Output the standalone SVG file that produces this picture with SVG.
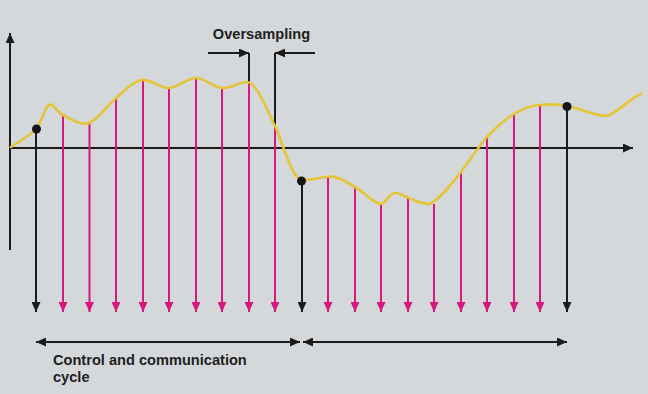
<svg xmlns="http://www.w3.org/2000/svg" width="648" height="394" viewBox="0 0 648 394">
<style>
.ax{stroke:#1b1b1b;stroke-width:2;fill:none}
.blk{stroke:#1b1b1b;stroke-width:2;fill:none}
.mag{stroke:#d6177f;stroke-width:2;fill:none}
.curve{stroke:#e5c437;stroke-width:2.6;fill:none;stroke-linecap:round}
.lbl{font-family:"Liberation Sans",Arial,sans-serif;font-weight:bold;font-size:14.6px;fill:#1e1e1e}
</style>
<defs>
<marker id="ak" markerUnits="userSpaceOnUse" markerWidth="10" markerHeight="9" refX="10" refY="4.5" orient="auto" viewBox="0 0 10 9"><path d="M0,0 L10,4.5 L0,9 Z" fill="#1b1b1b"/></marker>
<marker id="ak2" markerUnits="userSpaceOnUse" markerWidth="10" markerHeight="9" refX="10" refY="4.5" orient="auto-start-reverse" viewBox="0 0 10 9"><path d="M0,0 L10,4.5 L0,9 Z" fill="#1b1b1b"/></marker>
<marker id="am" markerUnits="userSpaceOnUse" markerWidth="10" markerHeight="9" refX="10" refY="4.5" orient="auto" viewBox="0 0 10 9"><path d="M0,0 L10,4.5 L0,9 Z" fill="#d6177f"/></marker>
</defs>
<rect width="648" height="394" fill="#d4d8db"/>
<g id="axes">
<line class="ax" x1="10" y1="250" x2="10" y2="33" marker-end="url(#ak)"/>
<line class="ax" x1="10" y1="148" x2="633" y2="148" marker-end="url(#ak)"/>
</g>
<g id="connectors">
<g id="samples-magenta">
<line class="mag" x1="63" y1="116" x2="63" y2="312" marker-end="url(#am)"/>
<line class="mag" x1="89.5" y1="123" x2="89.5" y2="312" marker-end="url(#am)"/>
<line class="mag" x1="116" y1="98" x2="116" y2="312" marker-end="url(#am)"/>
<line class="mag" x1="143" y1="80" x2="143" y2="312" marker-end="url(#am)"/>
<line class="mag" x1="169" y1="88" x2="169" y2="312" marker-end="url(#am)"/>
<line class="mag" x1="196" y1="78" x2="196" y2="312" marker-end="url(#am)"/>
<line class="mag" x1="222" y1="88" x2="222" y2="312" marker-end="url(#am)"/>
<line class="mag" x1="249" y1="83" x2="249" y2="312" marker-end="url(#am)"/>
<line class="mag" x1="275" y1="126" x2="275" y2="312" marker-end="url(#am)"/>
<line class="mag" x1="328" y1="177" x2="328" y2="312" marker-end="url(#am)"/>
<line class="mag" x1="355" y1="187" x2="355" y2="312" marker-end="url(#am)"/>
<line class="mag" x1="381" y1="204" x2="381" y2="312" marker-end="url(#am)"/>
<line class="mag" x1="408" y1="197" x2="408" y2="312" marker-end="url(#am)"/>
<line class="mag" x1="434" y1="204" x2="434" y2="312" marker-end="url(#am)"/>
<line class="mag" x1="461" y1="172" x2="461" y2="312" marker-end="url(#am)"/>
<line class="mag" x1="487" y1="137" x2="487" y2="312" marker-end="url(#am)"/>
<line class="mag" x1="514" y1="114" x2="514" y2="312" marker-end="url(#am)"/>
<line class="mag" x1="540" y1="105" x2="540" y2="312" marker-end="url(#am)"/>
</g>
<g id="samples-black">
<line class="blk" x1="36" y1="129" x2="36" y2="312" marker-end="url(#ak)"/>
<line class="blk" x1="302" y1="181" x2="302" y2="312" marker-end="url(#ak)"/>
<line class="blk" x1="567" y1="106" x2="567" y2="312" marker-end="url(#ak)"/>
<line class="blk" x1="249" y1="53" x2="249" y2="83"/>
<line class="blk" x1="275" y1="53" x2="275" y2="126"/>
<line class="blk" x1="208" y1="53" x2="249" y2="53" marker-end="url(#ak)"/>
<line class="blk" x1="315" y1="53" x2="275" y2="53" marker-end="url(#ak)"/>
</g>
<g id="cycle-arrows">
<line class="blk" x1="36" y1="342" x2="300" y2="342" marker-start="url(#ak2)" marker-end="url(#ak2)"/>
<line class="blk" x1="303" y1="342" x2="567" y2="342" marker-start="url(#ak2)" marker-end="url(#ak2)"/>
</g>
</g>
<g id="signal">
<path class="curve" d="M11,147 C15.2,144 29.7,136 36,129 C42.3,122 44.5,107.3 49,105 C53.5,102.7 56.3,112 63,115 C69.7,118 80.2,125.8 89,123 C97.8,120.2 107.3,105.2 116,98 C124.7,90.8 132.2,81.7 141,80 C149.8,78.3 159.8,88.3 169,88 C178.2,87.7 187.2,78 196,78 C204.8,78 213.5,87.3 222,88 C230.5,88.7 239,82 247,82 C257,82 268.8,114.7 275,126 C279.5,134.2 290,172 298,178 C304,183 320,176.5 330,176.5 C340,176.5 346.5,182.4 355,187 C363.5,191.6 374,204 381,204 C386,204 389,193 395,193 C401,193 403,196 409,198 C415,200 420,204 428,204 C436,204 455,180 461,172 C467,164 480,145 487,137 C494,129.4 505,119.4 514,114 C523,108.6 531,105.5 540,105 C549,104 558,104 567,106 C578,108 596,116 606,116 C614,116 630,98 641,94"/>
</g>
<g id="dots" fill="#151515">
<circle id="dot1" cx="36.5" cy="129" r="4.5"/>
<circle id="dot2" cx="301.5" cy="181" r="4.5"/>
<circle id="dot3" cx="567" cy="106.5" r="4.5"/>
</g>
<g id="label-oversampling"><text class="lbl" x="261.5" y="39" text-anchor="middle">Oversampling</text></g>
<g id="label-cycle"><text class="lbl" x="53" y="365">Control and communication</text><text class="lbl" x="53" y="382">cycle</text></g>
</svg>
